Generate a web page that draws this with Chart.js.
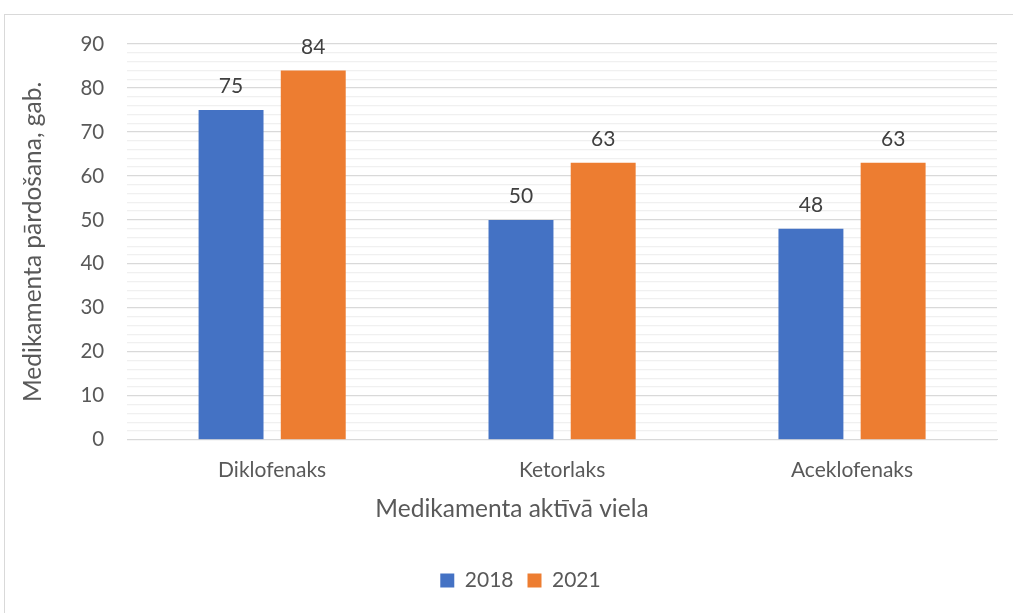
<!DOCTYPE html>
<html>
<head>
<meta charset="utf-8">
<script src="https://cdn.jsdelivr.net/npm/chart.js@4/dist/chart.umd.min.js"></script>
<style>
  html, body { margin: 0; padding: 0; background: #fff; overflow: hidden; }
  #frame {
    position: absolute; left: 4px; top: 14px;
    width: 1036px; height: 620px;
    border: 1px solid #d9d9d9;
    box-sizing: border-box;
  }
  #wrap { position: absolute; left: 0; top: 0; width: 1040px; height: 613px; }
</style>
</head>
<body>
<div id="frame"></div>
<div id="wrap"><canvas id="salesChart" width="1040" height="613"></canvas></div>
<script>
/* =========================================================
   DATA
========================================================= */

const categories = ["Diklofenaks", "Ketorlaks", "Aceklofenaks"];

const years = ["2018", "2021"];

const sales2018 = [75, 50, 48];

const sales2021 = [84, 63, 63];

const seriesColors = ["#4472c4", "#ed7d31"];

const yMax = 90;

const xTitle = "Medikamenta aktīvā viela";

const yTitle = "Medikamenta pārdošana, gab.";

const FONT = "Lato, 'Open Sans', sans-serif";

const TEXT = "#595959";

/* =========================================================
   PLUGINS
========================================================= */

// value labels above each bar + category axis title centred on the whole chart
const barLabels = {
  id: "barLabels",
  afterLayout(chart){
    // centre the legend on the full chart box, not the padded one
    chart.legend.left += 15;
    chart.legend.right += 15;
  },
  afterDatasetsDraw(chart){
    const c = chart.ctx;
    c.save();
    c.font = "21px " + FONT;
    c.fillStyle = "#404040";
    c.textAlign = "center";
    c.textBaseline = "bottom";
    chart.data.datasets.forEach((ds, i) => {
      chart.getDatasetMeta(i).data.forEach((bar, j) => {
        c.fillText(String(ds.data[j]), bar.x, bar.y - 13);
      });
    });

    c.font = "24.5px " + FONT;
    c.fillStyle = TEXT;
    c.textBaseline = "middle";
    c.fillText(xTitle, chart.width / 2 - 8, chart.scales.x.top + 69);
    c.restore();
  }
};

/* =========================================================
   CHART
========================================================= */

const ctx =
  document
    .getElementById("salesChart")
    .getContext("2d");

new Chart(ctx, {

  type: "bar",

  data: {
    labels: categories,
    datasets: [
      {
        label: years[0],
        data: sales2018,
        backgroundColor: seriesColors[0]
      },
      {
        label: years[1],
        data: sales2021,
        backgroundColor: seriesColors[1]
      }
    ]
  },

  plugins: [barLabels],

  options: {

    responsive: false,

    animation: false,

    categoryPercentage: 0.567,

    barPercentage: 0.79,

    layout: {
      padding: { left: 14, right: 43, top: 44, bottom: 12 }
    },

    plugins: {
      legend: {
        position: "bottom",
        labels: {
          color: TEXT,
          boxWidth: 14,
          boxHeight: 14,
          padding: 14,
          font: { family: FONT, size: 21 }
        }
      },
      tooltip: { enabled: false }
    },

    scales: {

      x: {
        grid: { display: false },
        border: { color: "#d9d9d9" },
        ticks: {
          color: TEXT,
          padding: 10,
          font: { family: FONT, size: 21 }
        },
        // room for the axis title drawn by the plugin
        afterFit(scale){
          scale.height += 63;
        }
      },

      y: {
        min: 0,
        max: yMax,
        border: { display: false },
        grid: {
          color: (g) => g.tick && g.tick.value % 10 === 0 ? "#d9d9d9" : "#f0f0f0",
          lineWidth: 1.3,
          drawTicks: false
        },
        ticks: {
          stepSize: 2,
          autoSkip: false,
          color: TEXT,
          padding: 23,
          font: { family: FONT, size: 20.5 },
          callback: (v) => v % 10 === 0 ? v : ""
        },
        title: {
          display: true,
          text: yTitle,
          color: TEXT,
          padding: { bottom: 10 },
          font: { family: FONT, size: 24.5 }
        }
      }

    }

  }

});
</script>
</body>
</html>
